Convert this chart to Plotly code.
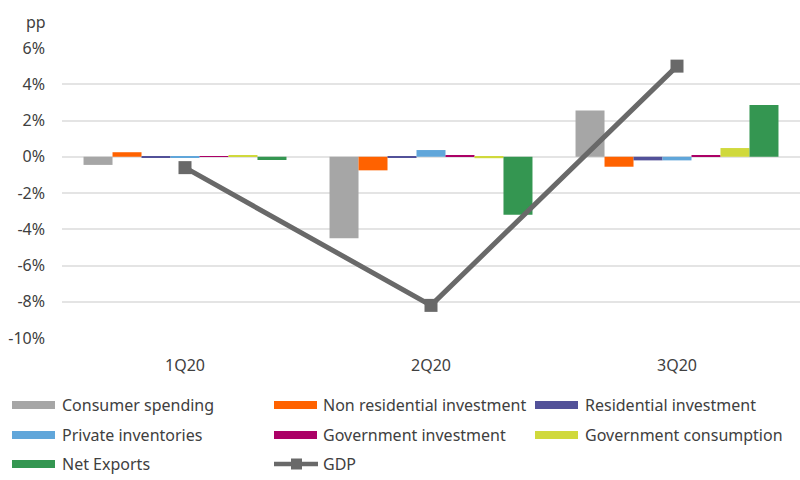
import plotly.graph_objects as go

quarters = ["1Q20", "2Q20", "3Q20"]

consumer_spending = [-0.45, -4.5, 2.55]
non_residential_investment = [0.25, -0.75, -0.55]
residential_investment = [-0.05, -0.05, -0.2]
private_inventories = [-0.05, 0.37, -0.2]
government_investment = [0.03, 0.05, 0.05]
government_consumption = [0.05, -0.08, 0.48]
net_exports = [-0.18, -3.2, 2.85]
gdp = [-0.6, -8.2, 5.0]

y_ticks = [6, 4, 2, 0, -2, -4, -6, -8, -10]

bars = [
    ("Consumer spending", consumer_spending, "#a6a6a6"),
    ("Non residential investment", non_residential_investment, "#ff6200"),
    ("Residential investment", residential_investment, "#525199"),
    ("Private inventories", private_inventories, "#60a6da"),
    ("Government investment", government_investment, "#ab0066"),
    ("Government consumption", government_consumption, "#d0d93c"),
    ("Net Exports", net_exports, "#349651"),
]
gdp_color = "#696969"
text_color = "#404040"

# plot area in pixels: x 62..800, y 48..338
L, R, T, B = 62, 800, 48, 338


def px_x(p):
    return (p - L) / (R - L)


def px_y(p):
    return (B - p) / (B - T)


fig = go.Figure()
for name, vals, col in bars:
    fig.add_trace(go.Bar(x=quarters, y=vals, name=name, marker_color=col,
                         marker_line_width=0, showlegend=False))

fig.add_trace(go.Scatter(x=quarters, y=gdp, name="GDP", mode="lines+markers",
                         line=dict(color=gdp_color, width=5),
                         marker=dict(symbol="square", size=13, color=gdp_color),
                         showlegend=False))

# hand made legend, 3 columns like the original
col_sym = [12, 274, 535]
col_txt = [60, 321, 583]
rows = [405, 435, 464]
entries = [(n, c) for n, _, c in bars] + [("GDP", None)]
for i, (name, col) in enumerate(entries):
    r, c = divmod(i, 3)
    yc = rows[r]
    if col is not None:
        fig.add_shape(type="rect", xref="paper", yref="paper",
                      x0=px_x(col_sym[c]), x1=px_x(col_sym[c] + 43),
                      y0=px_y(yc + 4), y1=px_y(yc - 4),
                      fillcolor=col, line_width=0)
    else:
        fig.add_shape(type="line", xref="paper", yref="paper",
                      x0=px_x(col_sym[c]), x1=px_x(col_sym[c] + 44),
                      y0=px_y(yc), y1=px_y(yc),
                      line=dict(color=gdp_color, width=4.5))
        fig.add_shape(type="rect", xref="paper", yref="paper",
                      x0=px_x(col_sym[c] + 17), x1=px_x(col_sym[c] + 28),
                      y0=px_y(yc + 5.5), y1=px_y(yc - 5.5),
                      fillcolor=gdp_color, line_width=0)
    fig.add_annotation(text=name, xref="paper", yref="paper",
                       x=px_x(col_txt[c]), y=px_y(yc), xanchor="left",
                       yanchor="middle", showarrow=False,
                       font=dict(size=16, color=text_color))

fig.add_annotation(text="pp", xref="paper", yref="paper",
                   x=px_x(48), y=px_y(22), xanchor="right", yanchor="middle",
                   showarrow=False, font=dict(size=16, color=text_color))

fig.update_layout(
    width=800, height=480,
    margin=dict(l=L, r=800 - R, t=T, b=480 - B),
    paper_bgcolor="white", plot_bgcolor="white",
    font=dict(family="Noto Sans", size=16, color=text_color),
    barmode="group", bargap=0.175, bargroupgap=0,
    showlegend=False,
)
fig.update_xaxes(showgrid=False, showline=False, ticks="", automargin=False,
                 ticklabelstandoff=16)
fig.update_yaxes(range=[-10, 6], tickvals=y_ticks,
                 ticktext=[f"{v}%" for v in y_ticks],
                 showgrid=True, gridcolor="#e4e4e4", gridwidth=1.5,
                 zeroline=True, zerolinecolor="#e4e4e4", zerolinewidth=1.5,
                 showline=False, automargin=False, ticklabelstandoff=16)

# page body has a default 8px margin, drop it so the figure fills the window
fig.write_html("out.html", config={"displayModeBar": False},
               post_script="document.body.style.margin = '0';")
